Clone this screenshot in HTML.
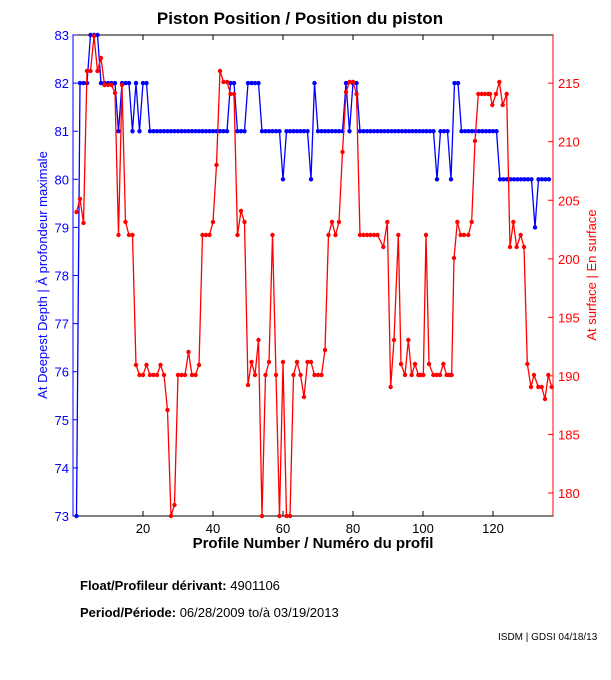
<!DOCTYPE html>
<html><head><meta charset="utf-8"><style>
body{margin:0;background:#fff;width:611px;height:675px;overflow:hidden}
svg{font-family:"Liberation Sans",sans-serif}
</style></head><body>
<svg id="s" width="611" height="675" xmlns="http://www.w3.org/2000/svg">
<text x="300" y="24" text-anchor="middle" font-size="17" font-weight="bold">Piston Position / Position du piston</text>
<rect x="73" y="35" width="480" height="481" fill="none" stroke="#000" stroke-width="1"/>
<line x1="73" y1="35" x2="73" y2="516" stroke="#00f"/>
<line x1="553" y1="35" x2="553" y2="516" stroke="#f00"/>
<g id="ax"></g>
<text x="313" y="548" text-anchor="middle" font-size="15" font-weight="bold">Profile Number / Numéro du profil</text>
<text transform="translate(47,275) rotate(-90)" text-anchor="middle" font-size="13" fill="#00f">At Deepest Depth | À profondeur maximale</text>
<text transform="translate(596,275) rotate(-90)" text-anchor="middle" font-size="13" fill="#f00">At surface | En surface</text>
<text x="80" y="590" font-size="13"><tspan font-weight="bold">Float/Profileur dérivant:</tspan> 4901106</text>
<text x="80" y="617" font-size="13"><tspan font-weight="bold">Period/Période:</tspan> 06/28/2009  to/à  03/19/2013</text>
<text x="498" y="640" font-size="10">ISDM | GDSI 04/18/13</text>
<g id="data"></g>
</svg>
<script>
var ns="http://www.w3.org/2000/svg",ax=document.getElementById('ax'),dg=document.getElementById('data');
function el(t,a,p){var e=document.createElementNS(ns,t);for(var k in a)e.setAttribute(k,a[k]);(p||ax).appendChild(e);return e;}
for(var v=73;v<=83;v++){var y=516-(v-73)*48.1;el('line',{x1:73,x2:78,y1:y,y2:y,stroke:'#00f'});var t=el('text',{x:69,y:y+5,'text-anchor':'end','font-size':13,fill:'#00f'});t.textContent=v;}
for(var v=180;v<=215;v+=5){var y=493-(v-180)*11.71;el('line',{x1:548,x2:553,y1:y,y2:y,stroke:'#f00'});var t=el('text',{x:558,y:y+5,'font-size':13,fill:'#f00'});t.textContent=v;}
for(var v=20;v<=120;v+=20){var x=73+v*3.5;el('line',{x1:x,x2:x,y1:516,y2:511,stroke:'#000'});el('line',{x1:x,x2:x,y1:35,y2:40,stroke:'#000'});var t=el('text',{x:x,y:533,'text-anchor':'middle','font-size':13});t.textContent=v;}
var B=[73,82,82,82,83,83,83,82,82,82,82,82,81,82,82,82,81,82,81,82,82,81];
while(B.length<44)B.push(81);B.push(82,82,81,81,81,82,82,82,82);
while(B.length<59)B.push(81);B.push(80);while(B.length<67)B.push(81);B.push(80,82);
while(B.length<77)B.push(81);B.push(82,81,82,82);while(B.length<103)B.push(81);B.push(80,81,81,81,80,82,82);
while(B.length<121)B.push(81);while(B.length<131)B.push(80);B.push(79);while(B.length<136)B.push(80);
var bp=B.map(function(v,i){return [73+3.5*(i+1),516-(v-73)*48.1];});
var Ry={1:212,2:199,3:223,4:71,5:71,6:36,7:71,8:58,9:85,10:85,11:85,12:93,13:235,14:85,15:222,16:235,17:235,18:365,19:375,20:375,21:365,22:375,23:375,24:375,25:365,26:375,27:410,28:516,29:505,30:375,31:375,32:375,33:352,34:375,35:375,36:365,37:235,38:235,39:235,40:222,41:165,42:71,43:82,44:82,45:94,46:94,47:235,48:211,49:222,50:385,51:362,52:375,53:340,54:516,55:375,56:362,57:235,58:375,59:516,60:362,61:516,62:516,63:375,64:362,65:375,66:397,67:362,68:362,69:375,70:375,71:375,72:350,73:235,74:222,75:235,76:222,77:152,78:92,79:82,80:82,81:94,82:235,83:235,84:235,85:235,86:235,87:235};
var rp=[];for(var i=1;i<=87;i++)rp.push([73+3.5*i,Ry[i]]);
var tail=[[40,247],[52,222],[62,387],[72,340],[85,235],[93,364],[105,375],[115,340],[125,375],[135,364],[145,375],[152,375],[160,375],[168,235],[177,364],[190,375],[200,375],[210,375],[220,364],[230,375],[238,375],[245,375],[252,258],[262,222],[272,235],[282,235],[295,235],[305,222],[315,141],[325,94],[335,94],[345,94],[355,94],[360,94],[367,105],[378,94],[388,82],[398,105],[410,94],[420,247],[430,222],[440,247],[452,235],[462,247],[472,364],[483,387],[492,375],[505,387],[515,387],[525,399],[535,375],[545,387]];
tail.forEach(function(p){rp.push([370+p[0]/3,p[1]]);});
function draw(pts,c){el('polyline',{points:pts.map(function(p){return p.join(',')}).join(' '),fill:'none',stroke:c,'stroke-width':1.3},dg);pts.forEach(function(p){el('circle',{cx:p[0],cy:p[1],r:2.2,fill:c},dg);});}
draw(bp,'#00f');draw(rp,'#f00');
</script>
</body></html>
